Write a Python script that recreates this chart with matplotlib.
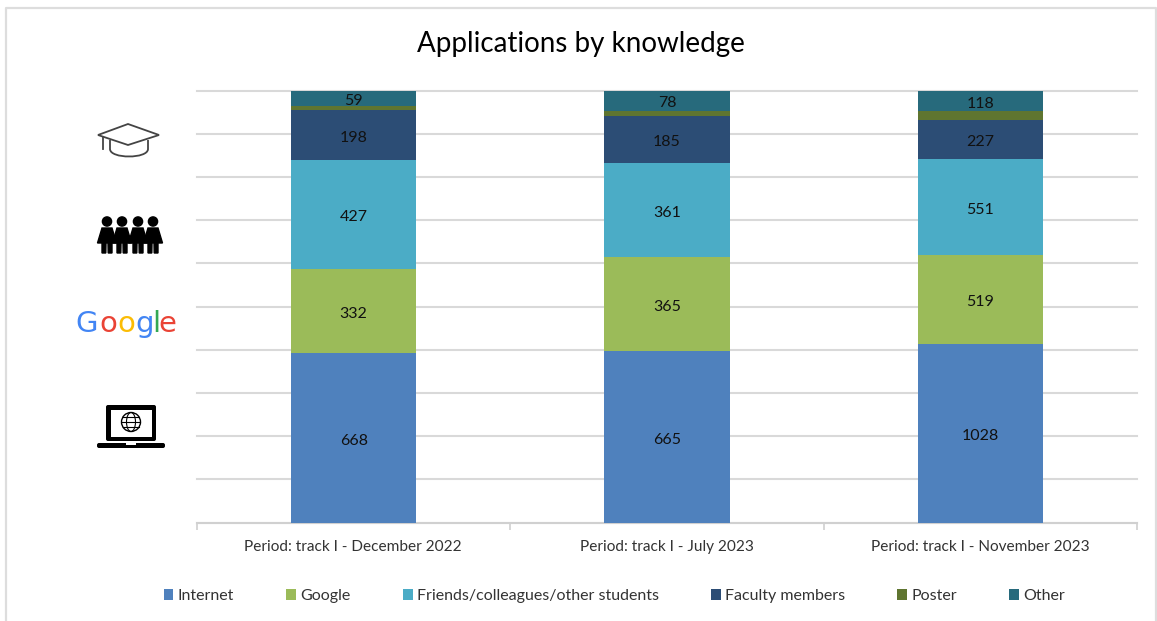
import numpy as np
import matplotlib.pyplot as plt
from matplotlib.patches import Rectangle, Polygon, Circle, Ellipse, PathPatch, FancyBboxPatch
from matplotlib.path import Path

plt.rcParams['font.family'] = ['Lato', 'DejaVu Sans']

periods = ['Period: track I - December 2022', 'Period: track I - July 2023', 'Period: track I - November 2023']
internet = [668, 665, 1028]
google = [332, 365, 519]
friends = [427, 361, 551]
faculty = [198, 185, 227]
poster = [18, 19, 50]
other = [59, 78, 118]

names = ['Internet', 'Google', 'Friends/colleagues/other students', 'Faculty members', 'Poster', 'Other']
colors = ['#4F81BD', '#9BBB59', '#4BACC6', '#2C4D75', '#5F7530', '#276A7C']
series = [internet, google, friends, faculty, poster, other]

W, H = 1157, 621
fig = plt.figure(figsize=(W / 100, H / 100), dpi=100)

# frame round the whole picture, open at the bottom
bg = fig.add_axes([0, 0, 1, 1])
bg.set_xlim(0, W)
bg.set_ylim(H, 0)
bg.axis('off')
bg.plot([6, 6, 1156, 1156], [H, 8, 8, H], color='#DDDDDD', lw=1.6)

ax = fig.add_axes([197 / W, 1 - 522.6 / H, 940 / W, 432 / H])
ax.patch.set_alpha(0)
data = np.array(series, dtype=float)
shares = data / data.sum(axis=0) * 100
x = np.arange(len(periods))
bottom = np.zeros(len(periods))
for i, name in enumerate(names):
    bars = ax.bar(x, shares[i], 0.4, bottom=bottom, color=colors[i], label=name, zorder=3)
    if name != 'Poster':
        vals = ax.bar_label(bars, labels=[str(v) for v in series[i]], label_type='center',
                            fontsize=11.5, color='#111111', zorder=4)
        for t in vals:
            t.xyann = (0, -2)
    bottom += shares[i]

ax.set_xlim(-0.5, 2.5)
ax.set_ylim(0, 100)
ax.set_yticks(np.arange(0, 101, 10))
ax.set_yticklabels([])
ax.tick_params(axis='y', length=0)
ax.grid(axis='y', color='#D9D9D9', lw=1.5, zorder=0, clip_on=False)
ax.set_axisbelow(True)
for s in ['top', 'left', 'right']:
    ax.spines[s].set_visible(False)
ax.spines['bottom'].set_color('#D0D0D0')
ax.spines['bottom'].set_linewidth(1.5)
ax.set_xticks([-0.5, 0.5, 1.5, 2.5])
ax.set_xticklabels([])
ax.tick_params(axis='x', length=5, color='#D0D0D0', width=1.2)
for i, p in enumerate(periods):
    bg.text(353 + i * 313.5, 547, p, ha='center', va='center', fontsize=11.1, color='#333333')

bg.text(581, 44, 'Applications by knowledge', ha='center', va='center', fontsize=20, color='black')

leg = fig.legend(loc='center', bbox_to_anchor=(614.5 / W, 1 - 596 / H), ncol=6, frameon=False,
                 fontsize=11.5, handlelength=0.62, handleheight=0.62, handletextpad=0.28,
                 columnspacing=3.25, labelcolor='#333333')

# cap icon
bg.add_patch(PathPatch(Path([(110, 140), (110, 149), (110, 159), (148, 159), (148, 149), (148, 140)],
                            [Path.MOVETO, Path.LINETO, Path.CURVE4, Path.CURVE4, Path.CURVE4, Path.LINETO]),
                       fc='none', ec='#444444', lw=1.3))
bg.add_patch(Polygon([(98, 135), (128, 124), (159, 135), (128, 145)], closed=True, fc='white', ec='#444444', lw=1.3))
bg.plot([103, 103], [137, 149], color='#444444', lw=1.3)

# people icon
for cx in [107, 122, 138, 153]:
    bg.add_patch(Circle((cx, 221.5), 4.6, color='black'))
    bg.add_patch(Polygon([(cx - 5, 228), (cx + 5, 228), (cx + 9.5, 243), (cx + 5, 243), (cx + 5, 253),
                          (cx + 1.2, 253), (cx + 1, 243), (cx - 1, 243), (cx - 1.2, 253), (cx - 5, 253),
                          (cx - 5, 243), (cx - 9.5, 243)],
                         closed=True, color='black'))

# Google word
letters = ['G', 'o', 'o', 'g', 'l', 'e']
letter_x = [87, 108.5, 126.5, 144.5, 156.5, 167.5]
letter_c = ['#4285F4', '#EA4335', '#FBBC05', '#4285F4', '#34A853', '#EA4335']
for ch, lx, lc in zip(letters, letter_x, letter_c):
    bg.text(lx, 332, ch, ha='center', va='baseline', fontsize=21, color=lc, family='DejaVu Sans')

# laptop icon
bg.add_patch(FancyBboxPatch((107, 406), 48, 34, boxstyle='round,pad=1,rounding_size=2', fc='black', ec='none'))
bg.add_patch(Rectangle((110.5, 409.5), 41, 27, fc='white', ec='none'))
bg.add_patch(FancyBboxPatch((98, 444), 66, 3, boxstyle='round,pad=1,rounding_size=2', fc='black', ec='none'))
bg.add_patch(Rectangle((126, 443), 10, 1.8, fc='white', ec='none'))
bg.add_patch(Circle((131, 422), 9.5, fc='none', ec='black', lw=1.0))
bg.add_patch(Ellipse((131, 422), 9, 19, fc='none', ec='black', lw=0.8))
bg.plot([122, 140], [422, 422], color='black', lw=0.8)
bg.plot([123, 139], [417, 417], color='black', lw=0.8)
bg.plot([123, 139], [427, 427], color='black', lw=0.8)

fig.savefig('out.png', dpi=100)
